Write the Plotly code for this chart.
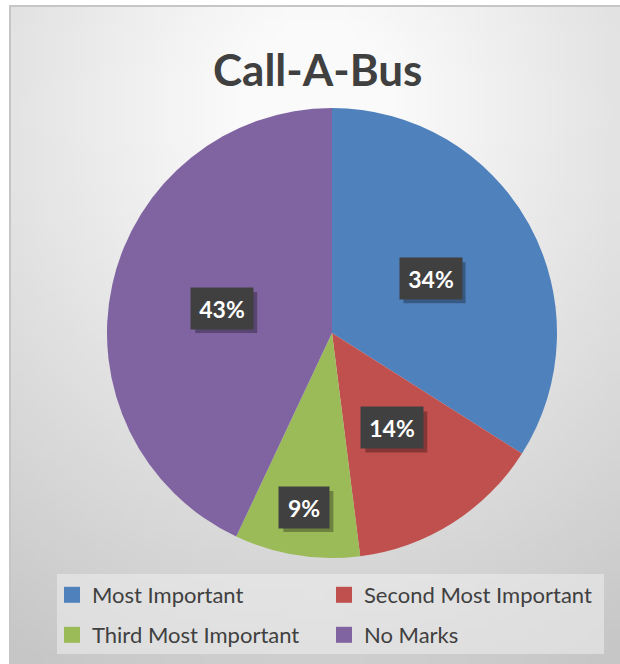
import math, zlib, struct, base64
import numpy as np
import plotly.graph_objects as go

# ---- data ----
categories = ["Most Important", "Second Most Important", "Third Most Important", "No Marks"]
values = [34, 14, 9, 43]
colors = ["#4F81BD", "#C0504D", "#9BBB59", "#8064A2"]
label_radius = [0.5, 0.5, 0.785, 0.5]   # label placement (fraction of radius)
title_text = "Call-A-Bus"

W, H = 620, 664
cx, cy, R = 332, 333, 225  # pie center / radius in px

# ---- background gradient image ----
def png_uri(arr):
    h, w = arr.shape
    raw = b"".join(b"\x00" + arr[i].tobytes() for i in range(h))
    def chunk(t, d):
        c = t + d
        return struct.pack(">I", len(d)) + c + struct.pack(">I", zlib.crc32(c) & 0xffffffff)
    png = b"\x89PNG\r\n\x1a\n" + chunk(b"IHDR", struct.pack(">IIBBBBB", w, h, 8, 0, 0, 0, 0)) \
        + chunk(b"IDAT", zlib.compress(raw, 9)) + chunk(b"IEND", b"")
    return "data:image/png;base64," + base64.b64encode(png).decode()

gw, gh = 61, 66
yy, xx = np.mgrid[0:gh, 0:gw]
d = np.sqrt(((xx / (gw - 1)) - 0.5) ** 2 + ((yy / (gh - 1)) - 0.15) ** 2)
g = np.clip(259 - 62 * d, 198, 250).astype(np.uint8)
bg = png_uri(g)

fig = go.Figure()
fig.add_trace(go.Pie(
    labels=categories, values=values, sort=False, direction="clockwise", rotation=0,
    marker=dict(colors=colors, line=dict(width=0)),
    textinfo="none", hoverinfo="label+percent", showlegend=False,
    domain=dict(x=[(cx - R) / W, (cx + R) / W], y=[1 - (cy + R) / H, 1 - (cy - R) / H]),
))

# legend entries (two rows, two legends)
for i, (cat, col) in enumerate(zip(categories, colors)):
    fig.add_trace(go.Scatter(
        x=[None], y=[None], mode="markers", name=cat,
        marker=dict(symbol="square", size=16, color=col),
        legend="legend" if i < 2 else "legend2", hoverinfo="skip",
    ))

annotations = []
shapes = []
total = sum(values)
cum = 0
for v, f in zip(values, label_radius):
    mid = (cum + v / 2) / total * 2 * math.pi
    cum += v
    px = cx + R * f * math.sin(mid)
    py = cy - R * f * math.cos(mid)
    txt = f"{round(v / total * 100)}%"
    bw, bh = 12 * len(txt) + 26, 41
    shapes.append(dict(type="rect", xref="paper", yref="paper",
                       x0=(px - bw / 2 + 4) / W, x1=(px + bw / 2 + 4) / W,
                       y0=1 - (py + bh / 2 + 4) / H, y1=1 - (py - bh / 2 + 4) / H,
                       line=dict(width=0), fillcolor="rgba(0,0,0,0.3)", layer="above"))
    annotations.append(dict(x=px / W, y=1 - py / H, xref="paper", yref="paper", showarrow=False,
                            text=f"<b>{txt}</b>", borderpad=0, width=bw, height=bh,
                            xanchor="center", yanchor="middle", bgcolor="#404040",
                            font=dict(family="Lato", size=23, color="white")))

annotations.append(dict(x=317.5 / W, y=1 - 69 / H, xref="paper", yref="paper", showarrow=False,
                        text=f"<b>{title_text}</b>", xanchor="center", yanchor="middle",
                        font=dict(family="Lato", size=44, color="#404040")))

shapes = [
    dict(type="rect", xref="paper", yref="paper", x0=10 / W, x1=1.02, y0=-0.02, y1=1 - 6 / H,
         line=dict(color="#c6c6c6", width=2), fillcolor="rgba(0,0,0,0)", layer="below"),
    dict(type="rect", xref="paper", yref="paper", x0=57 / W, x1=604 / W,
         y0=1 - 654 / H, y1=1 - 574 / H, line=dict(width=0),
         fillcolor="rgba(238,238,238,0.55)", layer="below"),
] + shapes

leg_common = dict(orientation="h", xanchor="left", yanchor="middle",
                  entrywidth=227, entrywidthmode="pixels", bgcolor="rgba(0,0,0,0)",
                  font=dict(family="Lato", size=22, color="#404040"), itemwidth=30)

fig.update_layout(
    width=W, height=H, margin=dict(l=0, r=0, t=0, b=0),
    paper_bgcolor="white", plot_bgcolor="rgba(0,0,0,0)",
    xaxis=dict(visible=False), yaxis=dict(visible=False),
    annotations=annotations, shapes=shapes,
    images=[dict(source=bg, xref="paper", yref="paper", x=10 / W, y=1 - 6 / H,
                 sizex=1 - 10 / W, sizey=1 - 6 / H, sizing="stretch", layer="below",
                 xanchor="left", yanchor="top")],
    legend=dict(leg_common, x=52 / W, y=1 - 595 / H),
    legend2=dict(leg_common, x=52 / W, y=1 - 635 / H),
    showlegend=True,
)

fig.write_html("out.html", config={"displayModeBar": False},
               post_script="document.body.style.margin='0';")
